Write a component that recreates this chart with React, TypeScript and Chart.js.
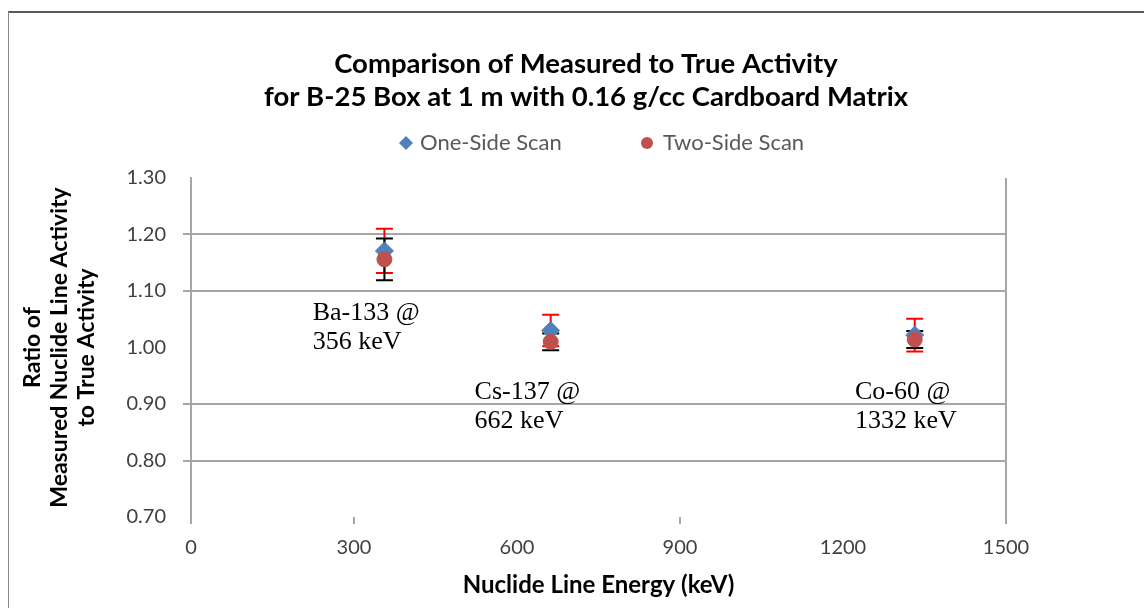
import React, { useEffect, useRef } from 'react';
import { Chart, registerables } from 'chart.js';

Chart.register(...registerables);

// ---- data ----
const energies = [356, 662, 1332];
const oneSideRatio = [1.171, 1.03, 1.022];
const oneSideErr = [0.039, 0.028, 0.029];
const twoSideRatio = [1.156, 1.01, 1.014];
const twoSideErr = [0.037, 0.015, 0.015];
const seriesNames = ['One-Side Scan', 'Two-Side Scan'];
const titleLines = [
  'Comparison of Measured to True Activity',
  'for B-25 Box at 1 m with 0.16 g/cc Cardboard Matrix',
];
const yTitleLines = ['Ratio of', 'Measured Nuclide Line Activity', 'to True Activity'];
const xTitleText = 'Nuclide Line Energy (keV)';
const yGridShown = [1.2, 1.1, 0.9, 0.8];
const xTickShown = [0, 300, 900, 1500];
const xGridShown = [1500];
const nuclideLabels = [
  { lines: ['Ba-133 @', '356 keV'], x: 224, y: 1.061 },
  { lines: ['Cs-137 @', '662 keV'], x: 522, y: 0.921 },
  { lines: ['Co-60 @', '1332 keV'], x: 1222, y: 0.921 },
];

const BLUE = '#4f81bd';
const RED = '#c0504d';
const GRID = '#a6a6a6';
const SANS = 'Lato';

const near = (v: number, list: number[]) => list.some((g) => Math.abs(v - g) < 1e-6);

const borderPlugin = {
  id: 'frame',
  beforeDraw(chart: any) {
    const { ctx } = chart;
    ctx.save();
    ctx.fillStyle = '#ffffff';
    ctx.fillRect(0, 0, chart.width, chart.height);
    ctx.strokeStyle = '#5a5a5a';
    ctx.lineWidth = 2;
    ctx.beginPath();
    ctx.moveTo(8, 12);
    ctx.lineTo(chart.width, 12);
    ctx.stroke();
    ctx.strokeStyle = '#8a8a8a';
    ctx.lineWidth = 1;
    ctx.beginPath();
    ctx.moveTo(8.5, 12);
    ctx.lineTo(8.5, chart.height);
    ctx.stroke();
    ctx.restore();
  },
};

const errorBarPlugin = {
  id: 'errorBars',
  beforeDatasetsDraw(chart: any) {
    const { ctx } = chart;
    const xs = chart.scales.x;
    const ys = chart.scales.y;
    chart.data.datasets.forEach((ds: any) => {
      if (!ds.errors) return;
      ctx.save();
      ctx.strokeStyle = ds.errorColor;
      ctx.lineWidth = 2;
      ds.data.forEach((p: any, i: number) => {
        const px = xs.getPixelForValue(p.x);
        const top = ys.getPixelForValue(p.y + ds.errors[i]);
        const bot = ys.getPixelForValue(p.y - ds.errors[i]);
        ctx.beginPath();
        ctx.moveTo(px, top);
        ctx.lineTo(px, bot);
        ctx.moveTo(px - 8.5, top);
        ctx.lineTo(px + 8.5, top);
        ctx.moveTo(px - 8.5, bot);
        ctx.lineTo(px + 8.5, bot);
        ctx.stroke();
      });
      ctx.restore();
    });
  },
};

const labelPlugin = {
  id: 'nuclideLabels',
  afterDatasetsDraw(chart: any) {
    const { ctx } = chart;
    const xs = chart.scales.x;
    const ys = chart.scales.y;
    ctx.save();
    ctx.fillStyle = '#000000';
    ctx.font = '26px "Liberation Serif", "Times New Roman", serif';
    ctx.textAlign = 'left';
    ctx.textBaseline = 'middle';
    nuclideLabels.forEach((lab) => {
      const px = xs.getPixelForValue(lab.x);
      const py = ys.getPixelForValue(lab.y);
      lab.lines.forEach((t, i) => ctx.fillText(t, px, py + i * 29));
    });
    ctx.restore();
  },
};

const legendPlugin = {
  id: 'customLegend',
  afterDraw(chart: any) {
    const { ctx } = chart;
    const y = 143;
    const items = [
      { x: 406, textX: 420 },
      { x: 647, textX: 663 },
    ];
    ctx.save();
    ctx.font = `22px ${SANS}`;
    ctx.textBaseline = 'middle';
    ctx.textAlign = 'left';
    chart.data.datasets.forEach((ds: any, i: number) => {
      const it = items[i];
      ctx.fillStyle = ds.backgroundColor;
      ctx.beginPath();
      if (ds.pointStyle === 'rectRot') {
        const r = 7;
        ctx.moveTo(it.x, y - r);
        ctx.lineTo(it.x + r, y);
        ctx.lineTo(it.x, y + r);
        ctx.lineTo(it.x - r, y);
        ctx.closePath();
      } else {
        ctx.arc(it.x, y, 6, 0, Math.PI * 2);
      }
      ctx.fill();
      ctx.fillStyle = '#595959';
      ctx.fillText(ds.label, it.textX, y);
    });
    ctx.restore();
  },
};

export default function App() {
  const ref = useRef<HTMLCanvasElement | null>(null);
  useEffect(() => {
    if (!ref.current) return;
    const chart = new Chart(ref.current, {
      type: 'scatter',
      data: {
        datasets: [
          {
            label: seriesNames[0],
            data: energies.map((e, i) => ({ x: e, y: oneSideRatio[i] })),
            pointStyle: 'rectRot',
            pointRadius: 9,
            backgroundColor: BLUE,
            borderColor: BLUE,
            order: 1,
            errors: oneSideErr,
            errorColor: '#ff0000',
          } as any,
          {
            label: seriesNames[1],
            data: energies.map((e, i) => ({ x: e, y: twoSideRatio[i] })),
            pointStyle: 'circle',
            pointRadius: 7.5,
            backgroundColor: RED,
            borderColor: RED,
            order: 0,
            errors: twoSideErr,
            errorColor: '#000000',
          } as any,
        ],
      },
      options: {
        responsive: false,
        animation: false,
        layout: { padding: { top: 12, left: 8, right: -20, bottom: 0 } },
        plugins: {
          legend: { display: false },
          tooltip: { enabled: false },
          title: {
            display: true,
            text: titleLines,
            color: '#000000',
            font: { family: SANS, size: 27.5, weight: 'bold', lineHeight: 1.2 },
            padding: { top: 35.5, bottom: 64.5 },
          },
        },
        scales: {
          x: {
            type: 'linear',
            min: 0,
            max: 1500,
            ticks: {
              stepSize: 300,
              color: '#404040',
              font: { family: SANS, size: 20 },
              padding: 12,
              callback: (v: any) => String(v),
            },
            grid: {
              color: (c: any) => (near(c.tick?.value, xGridShown) ? GRID : 'transparent'),
              tickColor: (c: any) => (near(c.tick?.value, xTickShown) ? GRID : 'transparent'),
              tickLength: 7,
              lineWidth: 2,
            },
            border: { display: false },
            title: {
              display: true,
              text: xTitleText,
              color: '#000000',
              font: { family: SANS, size: 24, weight: 'bold', lineHeight: 1.2 },
              padding: { top: 0, bottom: 8.6 },
            },
            afterFit: (s: any) => {
              s.height = 91;
            },
          },
          y: {
            min: 0.7,
            max: 1.3,
            ticks: {
              stepSize: 0.1,
              color: '#404040',
              font: { family: SANS, size: 20 },
              padding: 17,
              callback: (v: any) => Number(v).toFixed(2),
            },
            grid: {
              color: (c: any) => (near(c.tick?.value, yGridShown) ? GRID : 'transparent'),
              tickColor: (c: any) => (near(c.tick?.value, yGridShown) ? GRID : 'transparent'),
              tickLength: 8,
              lineWidth: 2,
            },
            border: { display: true, color: GRID, width: 2 },
            title: {
              display: true,
              text: yTitleLines,
              color: '#000000',
              font: { family: SANS, size: 23, weight: 'bold', lineHeight: 1.174 },
              padding: { top: 11.5, bottom: 0 },
            },
            afterFit: (s: any) => {
              s.width = 183;
            },
          },
          yRight: {
            type: 'linear',
            position: 'right',
            display: true,
            min: 0.7,
            max: 1.3,
            ticks: { display: false },
            grid: { display: false, drawTicks: false },
            border: { display: false },
            afterFit: (s: any) => {
              s.width = 158;
            },
          },
        },
      } as any,
      plugins: [borderPlugin, errorBarPlugin, labelPlugin, legendPlugin],
    });
    return () => chart.destroy();
  }, []);
  return (
    <canvas
      ref={ref}
      width={1144}
      height={608}
      style={{ position: 'fixed', left: 0, top: 0, width: 1144, height: 608 }}
    />
  );
}
